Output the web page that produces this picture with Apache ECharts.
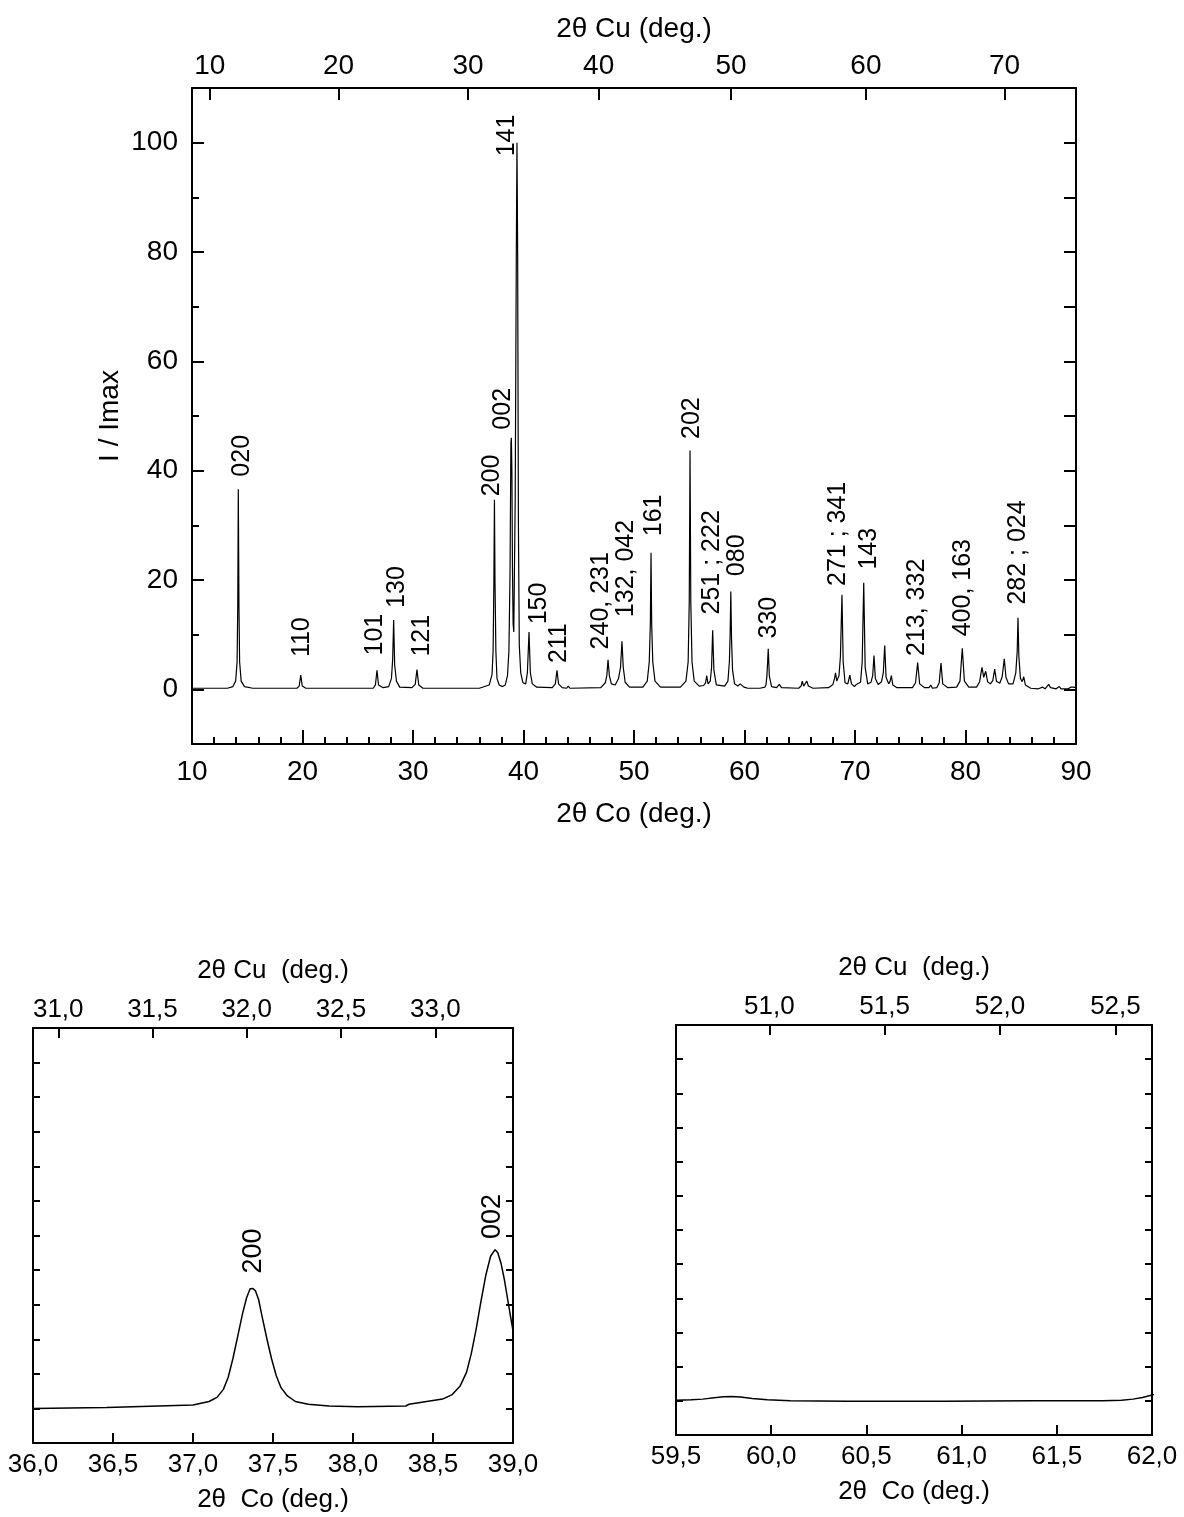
<!DOCTYPE html>
<html><head><meta charset="utf-8">
<script src="https://cdn.jsdelivr.net/npm/echarts@6.0.0/dist/echarts.min.js"></script>
<style>html,body{margin:0;padding:0;background:#fff}#c{width:1184px;height:1517px}</style>
</head><body><div id="c"></div>
<script>
// ---------- wavelengths (for the 2θ Cu top axes) ----------
const LAMBDA_CU = 1.5406, LAMBDA_CO = 1.7890;

// ---------- main pattern: 2θ Co (deg.) and I / Imax ----------
const mainTrace = [
[10.0,0.2],[13.2,0.2],[13.7,0.5],[13.95,1.5],[14.08,5],[14.14,15],[14.19,36.6],[14.25,15],[14.31,5],[14.45,1.5],[14.75,0.5],[15.5,0.2],
[19.5,0.2],[19.7,0.6],[19.84,2.6],[19.98,0.6],[20.3,0.2],
[26.4,0.2],[26.6,0.8],[26.74,3.5],[26.88,0.8],[27.3,0.3],[27.8,0.5],[28.05,2],[28.16,5.5],[28.25,12.7],[28.34,4.5],[28.5,1.5],[28.8,0.4],
[29.9,0.3],[30.2,0.9],[30.36,3.6],[30.52,0.8],[30.9,0.2],
[36.0,0.2],[36.9,0.8],[37.15,2.7],[37.25,7],[37.32,20],[37.37,34.7],[37.42,20],[37.5,7],[37.6,2],[37.8,0.8],[38.1,0.5],
[38.35,0.8],[38.55,2.5],[38.68,7],[38.78,21],[38.86,45],[38.9,46],[38.95,40],[39.0,22.5],[39.06,12],[39.12,10.5],
[39.25,35],[39.35,80],[39.41,100],[39.47,80],[39.54,30],[39.62,8],[39.75,3],[39.95,1.2],
[40.2,1],[40.35,3],[40.5,10.5],[40.62,3],[40.8,1],[41.2,0.4],
[42.6,0.3],[42.88,1],[43.03,3.5],[43.17,1],[43.5,0.3],[43.9,0.2],[44.05,0.6],[44.2,0.2],
[47.0,0.3],[47.4,1.2],[47.54,2.5],[47.65,5.4],[47.77,2.5],[47.95,1],[48.3,0.8],[48.6,2],[48.78,4],[48.91,8.8],[49.03,4],[49.2,1.3],[49.6,0.4],
[50.8,0.4],[51.2,1.5],[51.38,5],[51.48,12],[51.54,25],[51.6,12],[51.7,5],[51.9,1.5],[52.4,0.4],
[54.2,0.4],[54.7,1.5],[54.9,5],[55.0,16],[55.07,43.7],[55.14,16],[55.25,5],[55.45,1.5],[55.9,0.6],
[56.3,0.7],[56.48,1.2],[56.58,2.5],[56.7,1],[56.9,1.5],[57.02,4],[57.12,10.8],[57.23,3.5],[57.45,0.8],
[58.2,0.6],[58.5,1.5],[58.63,5],[58.7,10],[58.76,17.9],[58.83,9],[58.92,3.5],[59.1,1],[59.4,0.6],[59.62,1],[59.78,1.3],[59.95,0.4],
[60.3,0.2],[61.4,0.2],[61.85,0.4],[61.95,0.9],[62.03,2.5],[62.15,7.4],[62.25,2.4],[62.45,0.5],[62.9,0.3],[63.15,0.9],[63.35,0.3],
[64.9,0.2],[65.12,0.6],[65.23,1.5],[65.35,0.6],[65.48,0.6],[65.64,1.5],[65.78,0.6],[66.2,0.2],
[67.6,0.3],[68.0,0.9],[68.15,2],[68.24,3],[68.35,1.5],[68.55,2.5],[68.68,6],[68.82,17.3],[68.93,5],[69.1,1.2],[69.35,1],[69.53,2.6],[69.68,1],
[69.95,0.5],[70.12,0.9],[70.3,0.7],[70.5,1.3],[70.65,5],[70.79,19.5],[70.92,4],[71.15,1],[71.45,1.3],[71.6,2.5],[71.72,6.2],[71.84,2],
[72.1,0.9],[72.4,1.4],[72.56,3],[72.69,8],[72.81,2.2],[73.05,1],[73.18,1.5],[73.29,2.5],[73.42,0.8],[73.8,0.3],
[75.2,0.3],[75.48,1.2],[75.67,4.9],[75.85,1],[76.3,0.3],[76.7,0.3],[76.86,0.8],[77.0,0.2],[77.4,0.3],[77.62,1.2],[77.78,4.8],[77.94,1],[78.4,0.3],
[79.2,0.4],[79.5,1.5],[79.71,7.5],[79.9,1.5],[80.3,0.4],
[81.0,0.4],[81.28,1.4],[81.49,4],[81.65,2.2],[81.83,3.3],[82.0,1.4],[82.25,1],[82.47,1.6],[82.64,3.7],[82.8,1.5],[83.1,1.1],[83.32,2.3],[83.51,5.6],[83.66,2.2],[83.9,1],
[84.3,1],[84.55,3],[84.68,7],[84.75,13.1],[84.83,6],[84.97,2],[85.13,1.4],[85.27,2.3],[85.42,0.8],[85.9,0.2],
[86.6,0.1],[86.99,0.4],[87.2,0.1],[87.35,0.2],[87.53,0.9],[87.7,0.3],[88.2,0.1],[88.49,0.5],[88.65,0.1],[89.3,0.1],[89.52,0.4],[89.75,0.4],[90.0,0.3]
];

// peak annotations (text, 2θ Co of label, I/Imax at label foot)
const peakText = ['020','110','101','130','121','200','002','141','150','211','240, 231','132, 042','161','202',
  '251 ; 222','080','330','271 ; 341','143','213, 332','400, 163','282 ; 024'];
const peakLabelX = [14.50,19.98,26.56,28.52,30.79,37.12,38.17,38.48,41.43,43.21,46.99,49.25,51.81,55.29,
  57.03,59.29,62.24,68.49,71.29,75.64,79.80,84.78];
const peakLabelY = [38.9,5.9,6.2,14.9,6.0,35.3,47.5,97.5,11.9,4.8,7.3,13.2,28.0,45.8,
  13.7,20.7,9.3,18.9,21.9,6.1,9.7,15.5];

// axis ticks
const yMajor = [0,20,40,60,80,100];
const yMinor = [10,30,50,70,90];
const cuMainTicks = [10,20,30,40,50,60,70];
const cuMainLabels = ['10','20','30','40','50','60','70'];

// ---------- inset (36–39° Co) ----------
const insetA = [
[36.00,0.00],[36.46,0.03],[37.00,0.10],[37.10,0.20],[37.15,0.32],[37.19,0.55],[37.22,0.90],[37.25,1.45],[37.28,2.10],
[37.31,2.75],[37.335,3.20],[37.357,3.46],[37.375,3.47],[37.39,3.40],[37.41,3.15],[37.43,2.70],[37.46,2.05],[37.49,1.45],
[37.52,0.95],[37.55,0.60],[37.59,0.36],[37.64,0.20],[37.72,0.12],[37.85,0.07],[38.03,0.05],[38.33,0.07],[38.35,0.12],
[38.56,0.27],[38.62,0.40],[38.67,0.65],[38.71,1.05],[38.74,1.60],[38.77,2.30],[38.80,3.10],[38.83,3.85],[38.86,4.40],
[38.888,4.59],[38.905,4.50],[38.925,4.20],[38.945,3.75],[38.965,3.20],[38.985,2.65],[39.00,2.25]
];
const insetAText = ['200','002'];
const insetALabelX = [37.38,38.874];
const insetALabelY = [3.9,4.9];
const cuATicks = [31.0,31.5,32.0,32.5,33.0];
const cuALabels = ['31,0','31,5','32,0','32,5','33,0'];

// ---------- inset (59.5–62° Co) ----------
const insetB = [
[59.50,0.02],[59.58,0.03],[59.64,0.05],[59.70,0.09],[59.75,0.12],[59.79,0.13],[59.84,0.11],[59.90,0.07],[59.98,0.03],
[60.10,0.00],[60.40,-0.01],[60.90,-0.01],[61.37,0.00],[61.74,0.00],[61.84,0.02],[61.90,0.05],[61.95,0.10],[62.02,0.20]
];
const cuBTicks = [51.0,51.5,52.0,52.5];
const cuBLabels = ['51,0','51,5','52,0','52,5'];

// ---------------------------------------------------------
const rad = Math.PI/180;
function cuToCo(cu){ return 2*Math.asin(Math.sin(cu/2*rad)*LAMBDA_CO/LAMBDA_CU)/rad; }

const FONT = "'Liberation Sans', Arial, sans-serif";
const INSET_SIZE = 26;

function topCuAxis(grid, min, max, ticks, labels, font, size, tickLen, margin, nameGap, name){
  const co = ticks.map(cuToCo);
  return {type:'value', gridIndex:grid, position:'top', min:min, max:max,
    axisLine:{show:true,onZero:false,lineStyle:{color:'#000',width:2}},
    axisTick:{show:true,inside:true,length:tickLen,customValues:co,lineStyle:{color:'#000',width:2}},
    axisLabel:{show:true,customValues:co,margin:margin,color:'#000',fontFamily:font,fontSize:size,
      formatter:function(v){const i=co.findIndex(c=>Math.abs(c-v)<1e-6);return i>=0?labels[i]:'';}},
    splitLine:{show:false},
    name:name,nameLocation:'middle',nameGap:nameGap,nameMoveOverlap:false,
    nameTextStyle:{color:'#000',fontFamily:font,fontSize:size}};
}
function plainY(grid,pos,min,max,interval,tickLen){
  return {type:'value',gridIndex:grid,position:pos,min:min,max:max,interval:interval,
    axisLine:{show:true,onZero:false,lineStyle:{color:'#000',width:2}},
    axisTick:{show:true,inside:true,length:tickLen,lineStyle:{color:'#000',width:2}},
    axisLabel:{show:false},splitLine:{show:false}};
}
function labelSeries(xi, yi, xs, ys, texts, font, size){
  return {type:'custom', xAxisIndex:xi, yAxisIndex:yi, clip:false, silent:true, animation:false,
    data: xs.map((x,i)=>[x, ys[i]]),
    renderItem:function(params, api){
      const p = api.coord([api.value(0), api.value(1)]);
      return {type:'text', x:p[0], y:p[1], rotation:Math.PI/2,
        style:{text:texts[params.dataIndex], fill:'#000', font: size+'px '+font, align:'left', verticalAlign:'middle'}};
    }};
}
function insetBottomAxis(grid,min,max){
  return {type:'value',gridIndex:grid,position:'bottom',min:min,max:max,interval:0.5,
    axisLine:{show:true,onZero:false,lineStyle:{color:'#000',width:2}},
    axisTick:{show:true,inside:true,length:10,lineStyle:{color:'#000',width:2}},
    axisLabel:{margin:9,color:'#000',fontFamily:FONT,fontSize:INSET_SIZE,formatter:v=>v.toFixed(1).replace('.',',')},
    splitLine:{show:false},
    name:'2θ  Co (deg.)',nameLocation:'middle',nameGap:44,nameMoveOverlap:false,
    nameTextStyle:{color:'#000',fontFamily:FONT,fontSize:INSET_SIZE}};
}

const chart = echarts.init(document.getElementById('c'), null, {renderer:'canvas'});
chart.setOption({
  animation:false,
  backgroundColor:'#fff',
  grid:[
    {left:192, top:88, width:884, height:656, outerBoundsMode:'none'},
    {left:33, top:1028, width:480, height:415, outerBoundsMode:'none'},
    {left:676, top:1025, width:476, height:410, outerBoundsMode:'none'}
  ],
  xAxis:[
    {type:'value',gridIndex:0,position:'bottom',min:10,max:90,interval:10,
      axisLine:{show:true,onZero:false,lineStyle:{color:'#000',width:2}},
      axisTick:{show:true,inside:true,length:14,lineStyle:{color:'#000',width:2}},
      minorTick:{show:true,splitNumber:5,length:7,lineStyle:{color:'#000',width:2}},
      axisLabel:{margin:14,color:'#000',fontFamily:FONT,fontSize:28},
      splitLine:{show:false},
      name:'2θ Co (deg.)',nameLocation:'middle',nameGap:56,nameMoveOverlap:false,
      nameTextStyle:{color:'#000',fontFamily:FONT,fontSize:28}},
    topCuAxis(0,10,90,cuMainTicks,cuMainLabels,FONT,28,12,8,45,'2θ Cu (deg.)'),
    insetBottomAxis(1,36,39),
    topCuAxis(1,36,39,cuATicks,cuALabels,FONT,INSET_SIZE,10,5,44,'2θ Cu  (deg.)'),
    insetBottomAxis(2,59.5,62),
    topCuAxis(2,59.5,62,cuBTicks,cuBLabels,FONT,INSET_SIZE,10,5,44,'2θ Cu  (deg.)')
  ],
  yAxis:[
    {type:'value',gridIndex:0,position:'left',min:-10,max:110,
      axisLine:{show:true,onZero:false,lineStyle:{color:'#000',width:2}},
      axisTick:{show:true,inside:true,length:12,customValues:yMajor,lineStyle:{color:'#000',width:2}},
      axisLabel:{customValues:yMajor,margin:14,color:'#000',fontFamily:FONT,fontSize:28},
      splitLine:{show:false},
      name:'I / Imax',nameLocation:'middle',nameGap:68,nameMoveOverlap:false,
      nameTextStyle:{color:'#000',fontFamily:FONT,fontSize:28}},
    {type:'value',gridIndex:0,position:'left',min:-10,max:110,
      axisLine:{show:false},
      axisTick:{show:true,inside:true,length:7,customValues:yMinor,lineStyle:{color:'#000',width:2}},
      axisLabel:{show:false},splitLine:{show:false}},
    plainY(0,'right',-10,110,10,12),
    plainY(1,'left',-1,11,1,7),
    plainY(1,'right',-1,11,1,7),
    plainY(2,'left',-1,11,1,7),
    plainY(2,'right',-1,11,1,7)
  ],
  series:[
    {type:'line',xAxisIndex:0,yAxisIndex:0,data:mainTrace,showSymbol:false,symbol:'none',
      lineStyle:{color:'#000',width:1.2},silent:true},
    labelSeries(0,0,peakLabelX,peakLabelY,peakText,FONT,25),
    {type:'line',xAxisIndex:2,yAxisIndex:3,data:insetA,showSymbol:false,symbol:'none',
      lineStyle:{color:'#000',width:1.5},silent:true,clip:false},
    labelSeries(2,3,insetALabelX,insetALabelY,insetAText,FONT,27),
    {type:'line',xAxisIndex:4,yAxisIndex:5,data:insetB,showSymbol:false,symbol:'none',
      lineStyle:{color:'#000',width:1.5},silent:true,clip:false}
  ]
});
</script>
</body></html>
